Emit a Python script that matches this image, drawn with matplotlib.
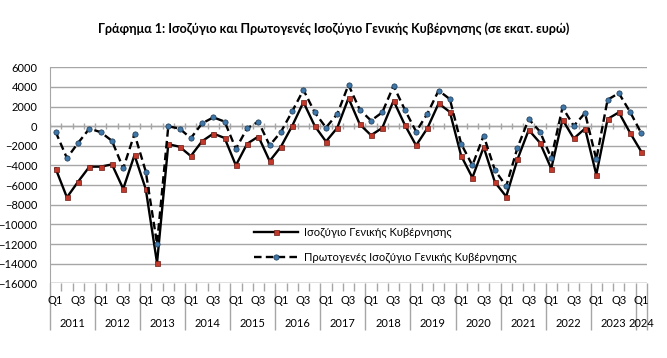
import matplotlib
matplotlib.use("Agg")
import matplotlib.pyplot as plt
import matplotlib.transforms as mtransforms
import numpy as np

plt.rcParams['font.family'] = ['Lato', 'DejaVu Sans']

# quarterly data, 2011 Q1 - 2024 Q1 (million euro)
years = ['2011', '2012', '2013', '2014', '2015', '2016', '2017',
         '2018', '2019', '2020', '2021', '2022', '2023', '2024']
quarters_per_year = [4, 4, 4, 4, 4, 4, 4, 4, 4, 4, 4, 4, 4, 1]

balance = [-4320, -7250, -5640, -4120,
           -4120, -3890, -6380, -2940,
           -6410, -13930, -1830, -2090,
           -3040, -1530, -750, -1200,
           -3990, -1790, -1050, -3550,
           -2090, 30, 2450, 30,
           -1560, -170, 2860, 190,
           -920, -170, 2590, 130,
           -1960, -210, 2320, 1450,
           -3010, -5240, -2130, -5710,
           -7160, -3380, -380, -1690,
           -4320, 670, -1250, -240,
           -4930, 730, 1410, -680,
           -2600]
primary = [-580, -3250, -1690, -240,
           -610, -1490, -4290, -780,
           -4620, -11980, -10, -240,
           -1220, 290, 900, 470,
           -2300, -210, 470, -1960,
           -580, 1510, 3700, 1410,
           -140, 1240, 4210, 1680,
           570, 1410, 4110, 1680,
           -550, 1270, 3630, 2760,
           -1790, -3990, -950, -4490,
           -6110, -2200, 730, -550,
           -3250, 1910, 30, 1340,
           -3380, 2690, 3370, 1450,
           -720]

q_labels = []
for n in quarters_per_year:
    q_labels += ['Q1', 'Q2', 'Q3', 'Q4'][:n]

x = np.arange(len(balance))
grid_col = '#a6a6a6'

fig = plt.figure(figsize=(6.67, 3.58), dpi=100)
ax = fig.add_axes([0.075, 0.2087, 0.895, 0.6033])

ax.set_ylim(-16000, 6000)
ax.set_xlim(-0.5, len(x) - 0.5)
ax.set_yticks(np.arange(-16000, 6001, 2000))
ax.yaxis.grid(True, color=grid_col, lw=1)
ax.set_axisbelow(True)

# zero line with small crossing ticks
ax.axhline(0, color=grid_col, lw=1, zorder=1)
bounds = np.arange(-0.5, len(x), 1.0)
ax.vlines(bounds, -300, 300, color=grid_col, lw=1, zorder=1)

ax.plot(x, balance, color='black', lw=1.7, marker='s', ms=3.6,
        mfc='#c0392b', mec='#6b1a14', mew=0.5,
        label='Ισοζύγιο Γενικής Κυβέρνησης', zorder=3)
ax.plot(x, primary, color='black', lw=1.7, ls=(0, (3.2, 1.8)), marker='o', ms=3.8,
        mfc='#3f78a8', mec='#1b3550', mew=0.5,
        label='Πρωτογενές Ισοζύγιο Γενικής Κυβέρνησης', zorder=3)

for s in ['top', 'right', 'bottom']:
    ax.spines[s].set_visible(False)
ax.spines['left'].set_color(grid_col)

ax.tick_params(axis='y', length=0, labelsize=8, pad=9)

# category axis: small ticks between quarters, long ticks between years
year_edges = np.concatenate([[0], np.cumsum(quarters_per_year)]) - 0.5
ax.set_xticks(year_edges)
ax.set_xticklabels([])
ax.set_xticks(bounds, minor=True)
ax.tick_params(axis='x', which='major', length=34, color=grid_col, width=1)
ax.tick_params(axis='x', which='minor', length=6, color=grid_col, width=1)
ax.axhline(-16000, color=grid_col, lw=1)

trans = mtransforms.blended_transform_factory(ax.transData, ax.transAxes)
for i, lab in enumerate(q_labels):
    if lab in ('Q1', 'Q3'):
        ax.text(i, -0.08, lab, transform=trans, ha='center', va='center', fontsize=8)
for k, yr in enumerate(years):
    c = (year_edges[k] + year_edges[k + 1]) / 2
    ax.text(c, -0.185, yr, transform=trans, ha='center', va='center', fontsize=8)

ax.legend(loc='center left', bbox_to_anchor=(0.325, 0.178), frameon=False,
          fontsize=8, handlelength=4, labelspacing=1.2, handletextpad=0.5)

fig.text(0.5, 0.92, 'Γράφημα 1: Ισοζύγιο και Πρωτογενές Ισοζύγιο Γενικής Κυβέρνησης (σε εκατ. ευρώ)',
         ha='center', va='center', fontsize=9, fontweight='bold')

fig.savefig('out.png', dpi=100)
